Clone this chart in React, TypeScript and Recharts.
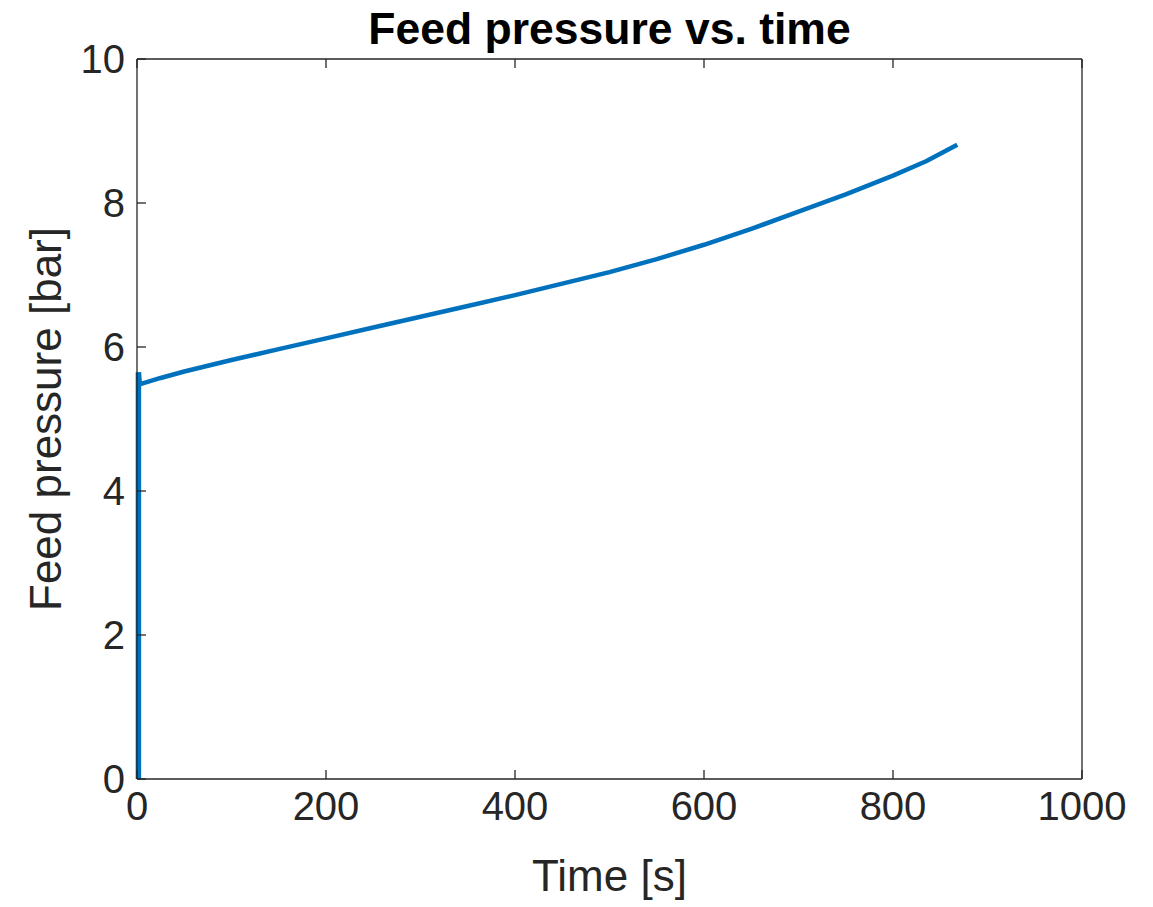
import { LineChart, Line, XAxis, YAxis, Label } from 'recharts';

// start-up spike at t ≈ 0
const spikeTimes = [1.5, 1.5, 2.5];
const spikePressures = [0, 5.65, 5.48];

// time [s] and feed pressure [bar]
const times = [2.5, 25, 50, 100, 150, 200, 250, 300, 350, 400, 450, 500, 550, 600, 650, 700, 750, 800, 835, 868];
const pressures = [5.48, 5.57, 5.66, 5.82, 5.97, 6.12, 6.27, 6.42, 6.57, 6.72, 6.88, 7.04, 7.22, 7.42, 7.64, 7.88, 8.12, 8.38, 8.58, 8.81];

const xTicks = [0, 200, 400, 600, 800, 1000];
const yTicks = [0, 2, 4, 6, 8, 10];

const data = times.map((t, i) => ({ t, p: pressures[i] }));
const spike = spikeTimes.map((t, i) => ({ t, p: spikePressures[i] }));

const font = '"Liberation Sans", Arial, Helvetica, sans-serif';
const axisColor = '#262626';

export default function App() {
    return (
        <div style={{ position: 'absolute', left: 0, top: 0, background: '#fff' }}>
            <LineChart
                width={1153}
                height={907}
                data={data}
                margin={{ top: 0, right: 0, left: 0, bottom: 0 }}
            >
                <XAxis
                    dataKey="t"
                    type="number"
                    domain={[0, 1000]}
                    ticks={xTicks}
                    height={128}
                    tickSize={-9}
                    tickMargin={22}
                    axisLine={{ stroke: axisColor, strokeWidth: 1.3 }}
                    tickLine={{ stroke: axisColor, strokeWidth: 1.3 }}
                    tick={{ fill: axisColor, fontSize: 40, fontFamily: font }}
                    interval={0}
                >
                    <Label
                        value="Time [s]"
                        position="insideBottom"
                        offset={16}
                        style={{ fill: axisColor, fontSize: 44, fontFamily: font }}
                    />
                </XAxis>
                <XAxis
                    xAxisId="t"
                    dataKey="t"
                    type="number"
                    orientation="top"
                    domain={[0, 1000]}
                    ticks={xTicks}
                    height={59}
                    tickSize={-9}
                    tickFormatter={() => ''}
                    axisLine={{ stroke: axisColor, strokeWidth: 1.3 }}
                    tickLine={{ stroke: axisColor, strokeWidth: 1.3 }}
                    interval={0}
                >
                    <Label
                        value="Feed pressure vs. time"
                        position="center"
                        offset={0}
                        dy={-1}
                        style={{ fill: '#000', fontSize: 44.5, fontWeight: 'bold', fontFamily: font }}
                    />
                </XAxis>
                <YAxis
                    type="number"
                    domain={[0, 10]}
                    ticks={yTicks}
                    width={137}
                    tickSize={-9}
                    tickMargin={21}
                    axisLine={{ stroke: axisColor, strokeWidth: 1.3 }}
                    tickLine={{ stroke: axisColor, strokeWidth: 1.3 }}
                    tick={{ fill: axisColor, fontSize: 40, fontFamily: font }}
                    interval={0}
                >
                    <Label
                        value="Feed pressure [bar]"
                        angle={-90}
                        position="insideLeft"
                        offset={45}
                        style={{ fill: axisColor, fontSize: 44, fontFamily: font, textAnchor: 'middle' }}
                    />
                </YAxis>
                <YAxis
                    yAxisId="r"
                    type="number"
                    orientation="right"
                    domain={[0, 10]}
                    ticks={yTicks}
                    width={71}
                    tickSize={-9}
                    tickFormatter={() => ''}
                    axisLine={{ stroke: axisColor, strokeWidth: 1.3 }}
                    tickLine={{ stroke: axisColor, strokeWidth: 1.3 }}
                    interval={0}
                />
                <Line
                    type="linear"
                    dataKey="p"
                    stroke="#0072BD"
                    strokeWidth={4.5}
                    dot={false}
                    strokeLinejoin="round"
                    isAnimationActive={false}
                />
                <Line
                    type="linear"
                    data={spike}
                    dataKey="p"
                    stroke="#0072BD"
                    strokeWidth={5.5}
                    dot={false}
                    strokeLinejoin="miter"
                    isAnimationActive={false}
                />
            </LineChart>
        </div>
    );
}
